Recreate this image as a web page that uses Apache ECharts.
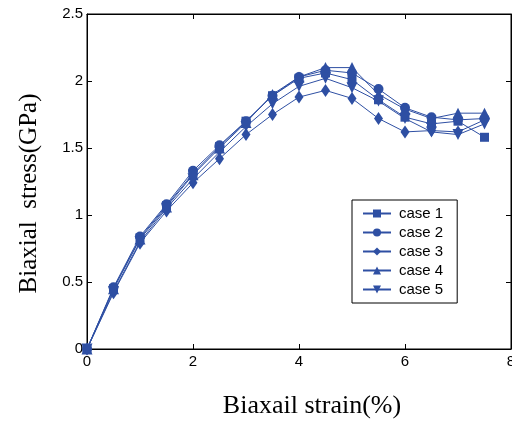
<!DOCTYPE html>
<html>
<head>
<meta charset="utf-8">
<script src="https://cdn.jsdelivr.net/npm/echarts@6/dist/echarts.min.js"></script>
<style>
  html, body { margin: 0; padding: 0; background: #fff; }
  #chart { width: 512px; height: 421px; }
</style>
</head>
<body>
<div id="chart"></div>
<script>
// strain values (%)
var strain = [0, 0.5, 1, 1.5, 2, 2.5, 3, 3.5, 4, 4.5, 5, 5.5, 6, 6.5, 7, 7.5];

// biaxial stress (GPa) for each case
var case1 = [0, 0.45, 0.83, 1.07, 1.31, 1.51, 1.70, 1.89, 2.02, 2.06, 2.01, 1.86, 1.73, 1.68, 1.70, 1.58];
var case2 = [0, 0.46, 0.84, 1.08, 1.33, 1.52, 1.70, 1.89, 2.03, 2.08, 2.06, 1.94, 1.80, 1.73, 1.71, 1.72];
var case3 = [0, 0.42, 0.79, 1.03, 1.24, 1.42, 1.60, 1.75, 1.88, 1.93, 1.87, 1.72, 1.62, 1.63, 1.62, 1.71];
var case4 = [0, 0.45, 0.82, 1.06, 1.30, 1.50, 1.69, 1.90, 2.03, 2.10, 2.10, 1.90, 1.79, 1.72, 1.76, 1.76];
var case5 = [0, 0.43, 0.80, 1.05, 1.27, 1.47, 1.66, 1.83, 1.96, 2.02, 1.95, 1.85, 1.72, 1.62, 1.60, 1.68];

var caseNames = ['case 1', 'case 2', 'case 3', 'case 4', 'case 5'];
var caseData = [case1, case2, case3, case4, case5];
var caseSymbols = [
    'rect',
    'circle',
    'path://M5,0 L9,7 L5,14 L1,7 Z',
    'triangle',
    'path://M0,0 L10,0 L5,10 Z'
];
var symbolSizes = [9, 10, [9, 13], 11, 11];

var blue = '#2e4fa3';
var tickFont = 'Liberation Sans, Arial, sans-serif';
var labelFont = 'Liberation Serif, Times New Roman, serif';

function pairs(ys) {
    return strain.map(function (x, i) { return [x, ys[i]]; });
}

function tick() {
    return { show: true, inside: true, length: 5, lineStyle: { color: '#000', width: 1 } };
}

var series = caseNames.map(function (name, i) {
    return {
        name: name,
        type: 'line',
        data: pairs(caseData[i]),
        symbol: caseSymbols[i],
        symbolSize: symbolSizes[i],
        showAllSymbol: true,
        lineStyle: { color: blue, width: 1 },
        itemStyle: { color: blue, borderWidth: 0 },
        z: 3
    };
});

// empty series so the top / right frame axes are drawn
series.push({
    type: 'line',
    xAxisIndex: 1,
    yAxisIndex: 1,
    data: [],
    silent: true
});

var chart = echarts.init(document.getElementById('chart'), null, { renderer: 'canvas' });

var option = {
    animation: false,
    backgroundColor: '#fff',
    grid: {
        left: 87, right: 1, top: 14, bottom: 72,
        outerBoundsMode: 'none',
        containLabel: false,
        show: true,
        borderColor: '#000',
        borderWidth: 1
    },
    legend: {
        orient: 'vertical',
        left: 352,
        top: 200,
        data: caseNames,
        itemWidth: 28,
        itemHeight: 10,
        itemGap: 4,
        padding: [6, 14, 6, 10],
        borderColor: '#000',
        borderWidth: 1,
        backgroundColor: '#fff',
        textStyle: { fontFamily: tickFont, fontSize: 15, color: '#000', padding: [0, 0, 0, 3] }
    },
    xAxis: [{
        type: 'value',
        min: 0, max: 8, interval: 2,
        name: 'Biaxail strain(%)',
        nameLocation: 'middle',
        nameGap: 44,
        nameTextStyle: { fontFamily: labelFont, fontSize: 26, color: '#000', padding: [0, 0, 0, 26] },
        axisLine: { show: true, onZero: false, lineStyle: { color: '#000', width: 1 } },
        axisTick: tick(),
        axisLabel: { fontFamily: tickFont, fontSize: 15, color: '#000', margin: 5 },
        splitLine: { show: false }
    }, {
        type: 'value',
        position: 'top',
        min: 0, max: 8, interval: 2,
        axisLine: { show: true, onZero: false, lineStyle: { color: '#000', width: 1 } },
        axisTick: tick(),
        axisLabel: { show: false },
        splitLine: { show: false }
    }],
    yAxis: [{
        type: 'value',
        position: 'left',
        min: 0, max: 2.5, interval: 0.5,
        name: 'Biaxial  stress(GPa)',
        nameLocation: 'middle',
        nameGap: 45,
        nameTextStyle: { fontFamily: labelFont, fontSize: 25, color: '#000', padding: [0, 24, 0, 0] },
        axisLine: { show: true, onZero: false, lineStyle: { color: '#000', width: 1 } },
        axisTick: tick(),
        axisLabel: { fontFamily: tickFont, fontSize: 15, color: '#000', margin: 4 },
        splitLine: { show: false }
    }, {
        type: 'value',
        position: 'right',
        min: 0, max: 2.5, interval: 0.5,
        axisLine: { show: true, onZero: false, lineStyle: { color: '#000', width: 1 } },
        axisTick: tick(),
        axisLabel: { show: false },
        splitLine: { show: false }
    }],
    series: series
};

chart.setOption(option);
</script>
</body>
</html>
